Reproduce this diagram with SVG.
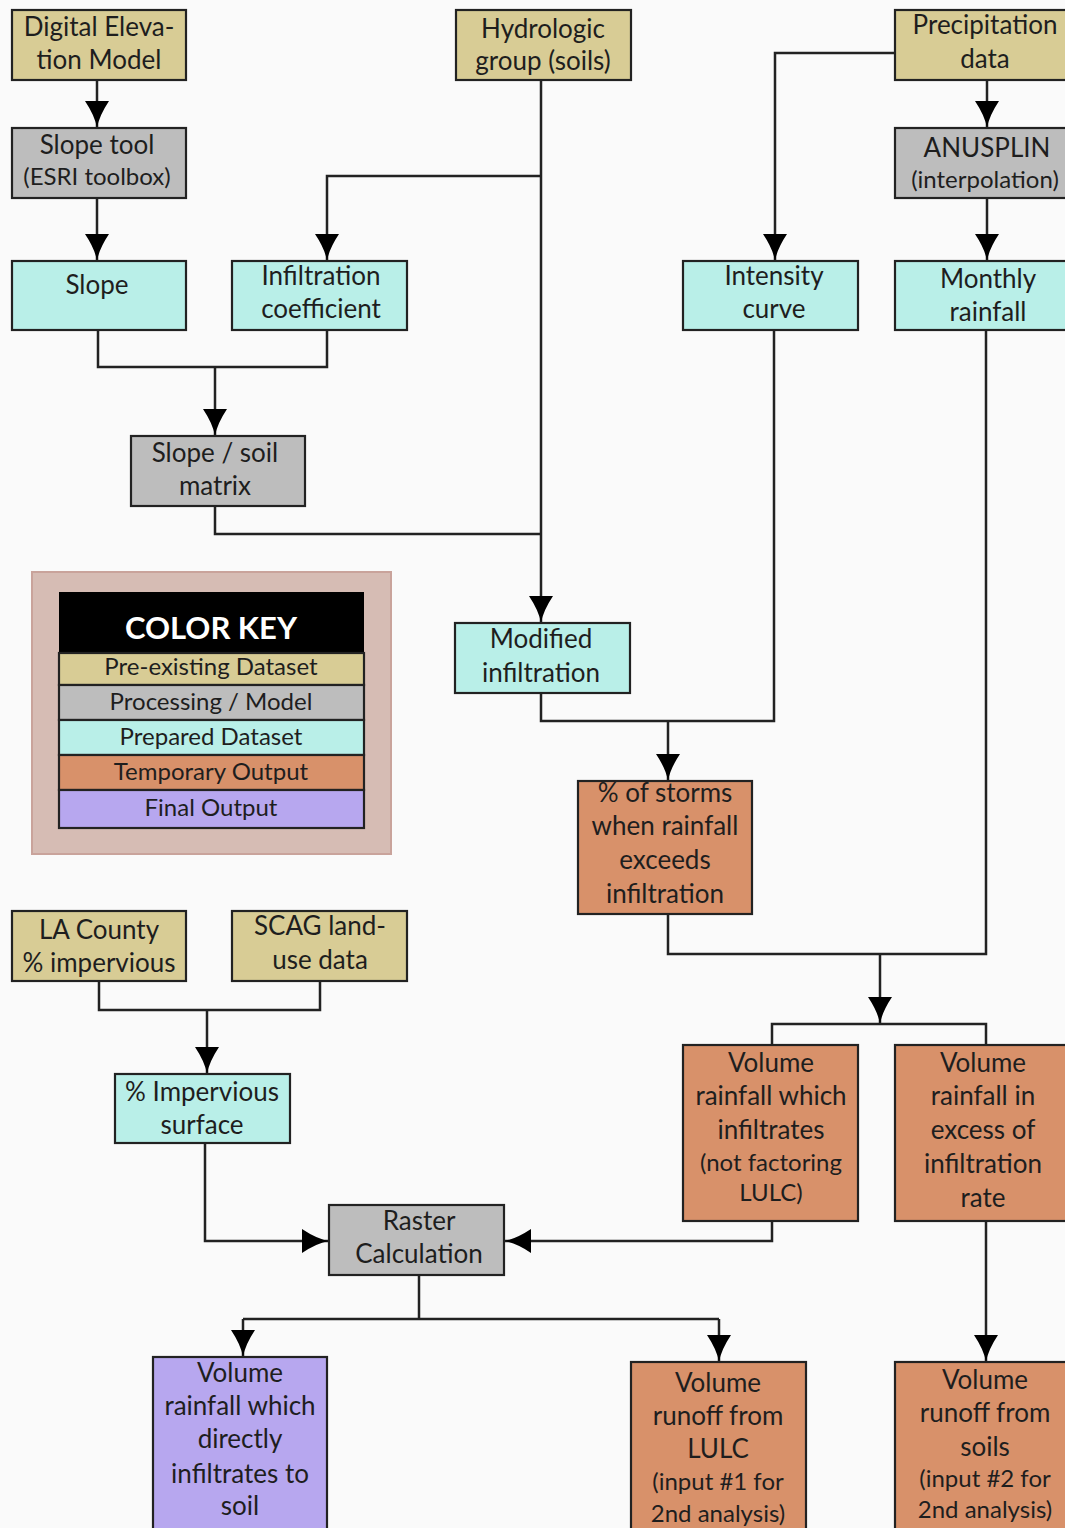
<svg xmlns="http://www.w3.org/2000/svg" width="1065" height="1528" viewBox="0 0 1065 1528">
<style>
.b{stroke:#222;stroke-width:2.2}
.pre{fill:#d8cc95}.proc{fill:#bdbdbd}.prep{fill:#b9efe8}.tmp{fill:#d8916a}.fin{fill:#b7a7ef}
text{font-family:Lato,"Liberation Sans",sans-serif;font-size:26px;fill:#1e1e1e;text-anchor:middle}
.s{font-size:24px}
.c{fill:none;stroke:#222;stroke-width:2.5}
</style>
<defs>
<marker id="ah" markerUnits="userSpaceOnUse" markerWidth="30" markerHeight="30" viewBox="-28 -13 30 26" refX="0" refY="0" orient="auto">
<path d="M0,0 Q-12,-2 -27,-12 L-27,12 Q-12,2 0,0 Z" fill="#000"/>
</marker>
</defs>
<rect width="1065" height="1528" fill="#fafafa"/>
<g id="connectors">
<path class="c" d="M97,80 V128" marker-end="url(#ah)"/>
<path class="c" d="M97,198 V261" marker-end="url(#ah)"/>
<path class="c" d="M541,80 V623" marker-end="url(#ah)"/>
<path class="c" d="M541,176 H327 V261" marker-end="url(#ah)"/>
<path class="c" d="M98,330 V367 H327 V330"/>
<path class="c" d="M215,367 V436" marker-end="url(#ah)"/>
<path class="c" d="M215,506 V534 H541"/>
<path class="c" d="M895,53 H775 V261" marker-end="url(#ah)"/>
<path class="c" d="M987,80 V128" marker-end="url(#ah)"/>
<path class="c" d="M987,198 V261" marker-end="url(#ah)"/>
<path class="c" d="M541,693 V721 H774 V330"/>
<path class="c" d="M668,721 V781" marker-end="url(#ah)"/>
<path class="c" d="M668,914 V954 H986 V330"/>
<path class="c" d="M880,954 V1024" marker-end="url(#ah)"/>
<path class="c" d="M772,1045 V1024 H986 V1045"/>
<path class="c" d="M99,981 V1010 H320 V981"/>
<path class="c" d="M207,1010 V1074" marker-end="url(#ah)"/>
<path class="c" d="M205,1143 V1241 H329" marker-end="url(#ah)"/>
<path class="c" d="M772,1221 V1241 H504" marker-end="url(#ah)"/>
<path class="c" d="M419,1275 V1319"/>
<path class="c" d="M243,1319 H719"/>
<path class="c" d="M243,1319 V1357" marker-end="url(#ah)"/>
<path class="c" d="M719,1319 V1362" marker-end="url(#ah)"/>
<path class="c" d="M986,1221 V1362" marker-end="url(#ah)"/>
</g>
<g id="dem"><rect class="b pre" x="12" y="10" width="174" height="70"/><text x="99" y="36">Digital Eleva-</text><text x="99" y="69">tion Model</text></g>
<g id="hydro"><rect class="b pre" x="456" y="10" width="175" height="70"/><text x="543" y="38">Hydrologic</text><text x="543" y="70">group (soils)</text></g>
<g id="precip"><rect class="b pre" x="895" y="10" width="180" height="70"/><text x="985" y="34">Precipitation</text><text x="985" y="68">data</text></g>
<g id="slopetool"><rect class="b proc" x="12" y="128" width="174" height="70"/><text x="97" y="154">Slope tool</text><text class="s" x="97" y="185">(ESRI toolbox)</text></g>
<g id="anusplin"><rect class="b proc" x="895" y="128" width="180" height="70"/><text x="987" y="157">ANUSPLIN</text><text class="s" x="985" y="188">(interpolation)</text></g>
<g id="slope"><rect class="b prep" x="12" y="261" width="174" height="69"/><text x="97" y="294">Slope</text></g>
<g id="infil"><rect class="b prep" x="232" y="261" width="175" height="69"/><text x="321" y="285">Infiltration</text><text x="321" y="318">coefficient</text></g>
<g id="intensity"><rect class="b prep" x="683" y="261" width="175" height="69"/><text x="774" y="285">Intensity</text><text x="774" y="318">curve</text></g>
<g id="monthly"><rect class="b prep" x="895" y="261" width="180" height="69"/><text x="988" y="288">Monthly</text><text x="988" y="321">rainfall</text></g>
<g id="slopesoil"><rect class="b proc" x="131" y="436" width="174" height="70"/><text x="215" y="462">Slope / soil</text><text x="215" y="495">matrix</text></g>
<g id="legend">
<rect x="32" y="572" width="359" height="282" fill="#d6bcb4" stroke="#c9a39b" stroke-width="2"/>
<rect x="59" y="592" width="305" height="61" fill="#000"/>
<text x="211" y="639" style="font-weight:bold;font-size:31px;fill:#fff">COLOR KEY</text>
<rect class="b pre" x="59" y="653" width="305" height="32"/><text class="s" x="211" y="675">Pre-existing Dataset</text>
<rect class="b proc" x="59" y="685" width="305" height="35"/><text class="s" x="211" y="710">Processing / Model</text>
<rect class="b prep" x="59" y="720" width="305" height="35"/><text class="s" x="211" y="745">Prepared Dataset</text>
<rect class="b tmp" x="59" y="755" width="305" height="35"/><text class="s" x="211" y="780">Temporary Output</text>
<rect class="b fin" x="59" y="790" width="305" height="38"/><text class="s" x="211" y="816">Final Output</text>
</g>
<g id="modinf"><rect class="b prep" x="455" y="623" width="175" height="70"/><text x="541" y="648">Modified</text><text x="541" y="682">infiltration</text></g>
<g id="storms"><rect class="b tmp" x="578" y="781" width="174" height="133"/><text x="665" y="802">% of storms</text><text x="665" y="835">when rainfall</text><text x="665" y="869">exceeds</text><text x="665" y="903">infiltration</text></g>
<g id="lacounty"><rect class="b pre" x="12" y="911" width="174" height="70"/><text x="99" y="939">LA County</text><text x="99" y="972">% impervious</text></g>
<g id="scag"><rect class="b pre" x="232" y="911" width="175" height="70"/><text x="320" y="935">SCAG land-</text><text x="320" y="969">use data</text></g>
<g id="impervious"><rect class="b prep" x="115" y="1074" width="175" height="69"/><text x="202" y="1101">% Impervious</text><text x="202" y="1134">surface</text></g>
<g id="volinf"><rect class="b tmp" x="683" y="1045" width="175" height="176"/><text x="771" y="1072">Volume</text><text x="771" y="1105">rainfall which</text><text x="771" y="1139">infiltrates</text><text class="s" x="771" y="1171">(not factoring</text><text class="s" x="771" y="1201">LULC)</text></g>
<g id="volexc"><rect class="b tmp" x="895" y="1045" width="180" height="176"/><text x="983" y="1072">Volume</text><text x="983" y="1105">rainfall in</text><text x="983" y="1139">excess of</text><text x="983" y="1173">infiltration</text><text x="983" y="1207">rate</text></g>
<g id="raster"><rect class="b proc" x="329" y="1205" width="175" height="70"/><text x="419" y="1230">Raster</text><text x="419" y="1263">Calculation</text></g>
<g id="voldirect"><rect class="b fin" x="153" y="1357" width="174" height="175"/><text x="240" y="1382">Volume</text><text x="240" y="1415">rainfall which</text><text x="240" y="1448">directly</text><text x="240" y="1483">infiltrates to</text><text x="240" y="1515">soil</text></g>
<g id="runofflulc"><rect class="b tmp" x="631" y="1362" width="175" height="170"/><text x="718" y="1392">Volume</text><text x="718" y="1425">runoff from</text><text x="718" y="1458">LULC</text><text class="s" x="718" y="1490">(input #1 for</text><text class="s" x="718" y="1522">2nd analysis)</text></g>
<g id="runoffsoils"><rect class="b tmp" x="895" y="1362" width="180" height="170"/><text x="985" y="1389">Volume</text><text x="985" y="1422">runoff from</text><text x="985" y="1456">soils</text><text class="s" x="985" y="1487">(input #2 for</text><text class="s" x="985" y="1518">2nd analysis)</text></g>
</svg>
